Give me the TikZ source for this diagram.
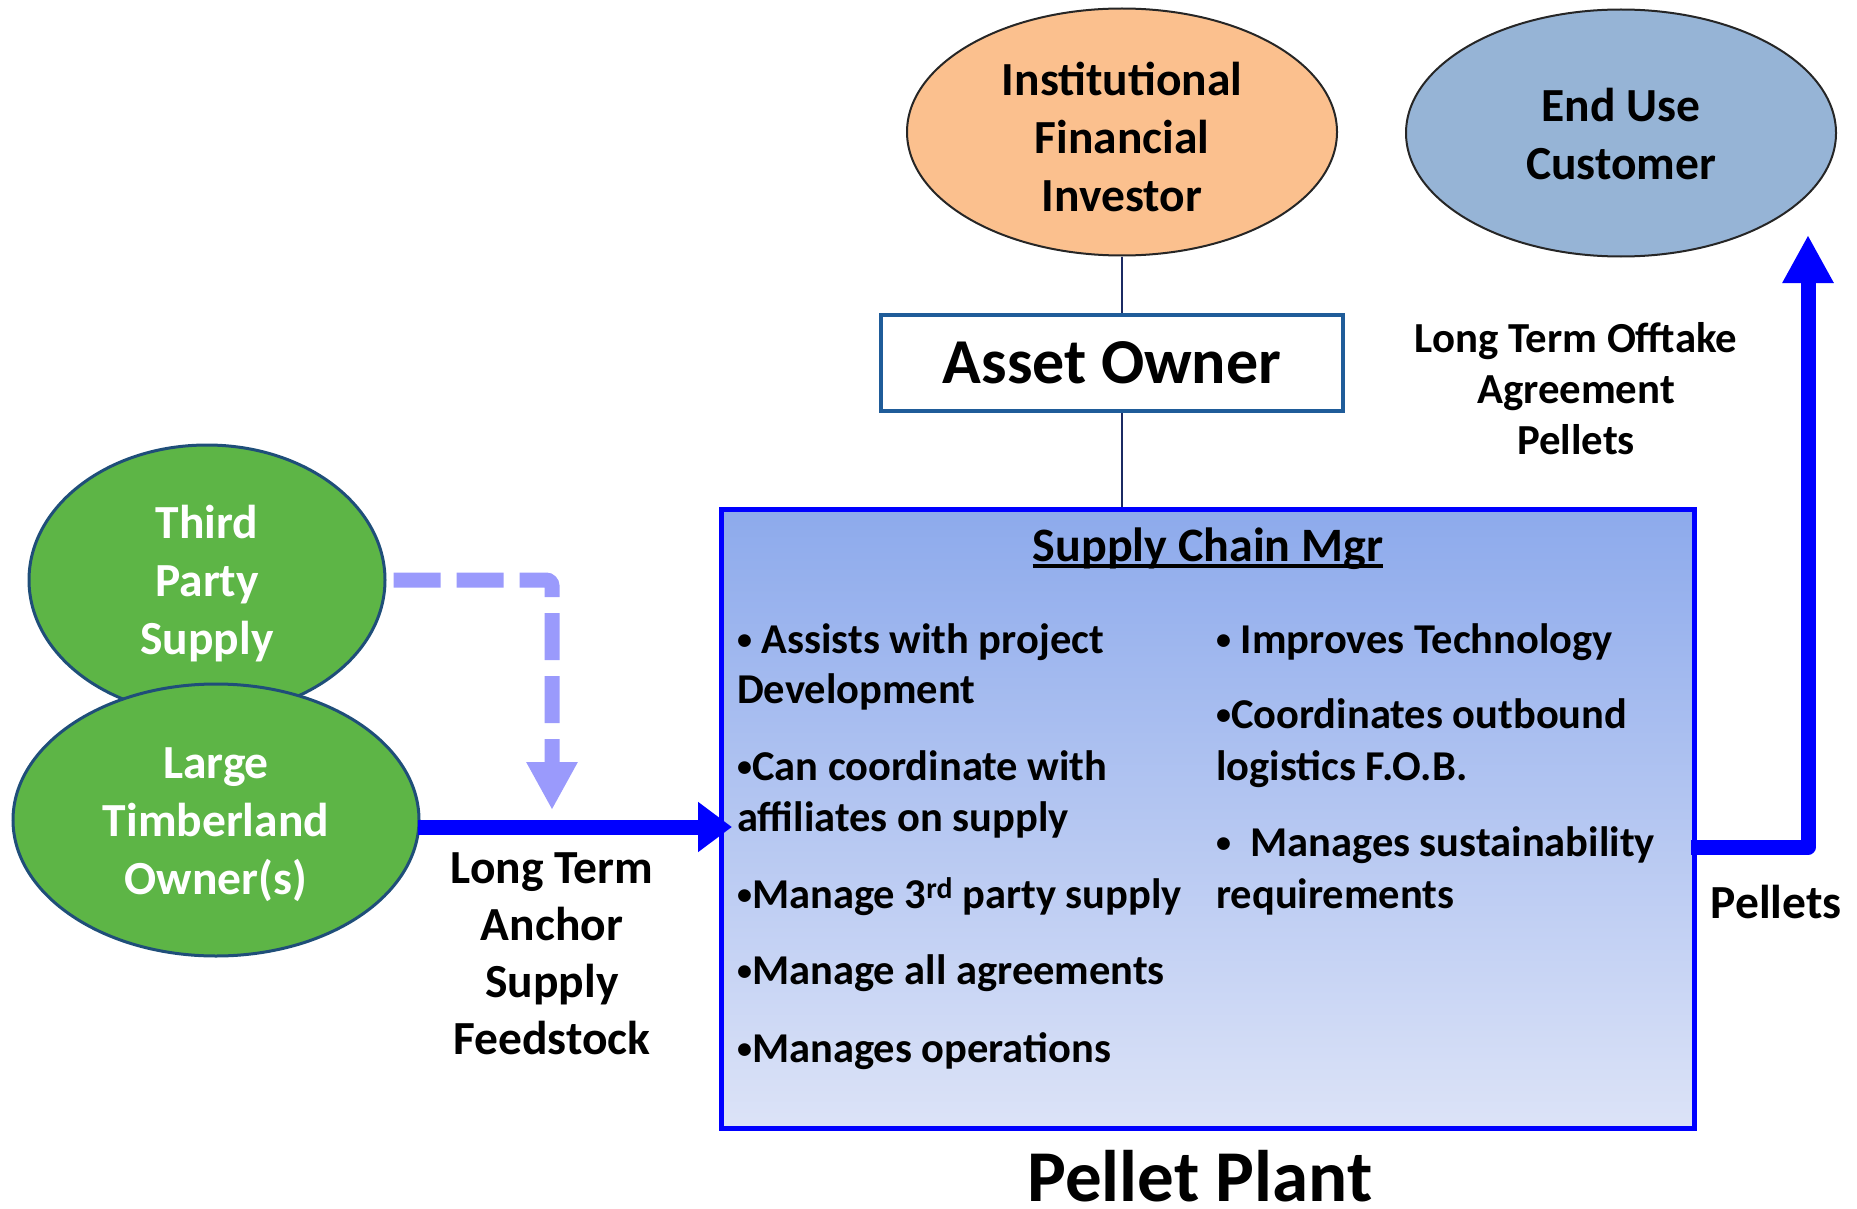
\documentclass[tikz,border=0pt]{standalone}
\usepackage{fontspec}
\setmainfont{Carlito}
\usetikzlibrary{shapes.geometric,arrows.meta}
\definecolor{peach}{HTML}{FBC08E}
\definecolor{skyb}{HTML}{96B4D6}
\definecolor{leaf}{HTML}{5DB546}
\definecolor{navy}{HTML}{1F4E79}
\definecolor{linknavy}{HTML}{1B2A63}
\definecolor{boxblue}{HTML}{1F5C99}
\definecolor{dashblue}{HTML}{9A9AFC}
\definecolor{plantTop}{HTML}{8DAAEC}
\definecolor{plantBot}{HTML}{DCE3F7}
\newcommand\mybul{{\fontsize{30}{30}\selectfont\raisebox{3.5pt}{•}}}
\begin{document}
\begin{tikzpicture}[x=1pt,y=-1pt,
  oval/.style={ellipse, inner sep=0pt},
  etxt/.style={inner sep=0pt, align=center, font=\bfseries\fontsize{47.5}{58}\selectfont},
  otxt/.style={inner sep=0pt, align=center, font=\bfseries\fontsize{42.8}{51}\selectfont},
  btxt/.style={inner sep=0pt, anchor=base west, font=\bfseries\fontsize{42.5}{51}\selectfont},
  bigarrow/.style={blue, line width=15pt},
  tip/.style={-{Triangle[width=48pt,length=48pt]}}
]
\useasboundingbox (0,0) rectangle (1857,1209);

% ellipses
\node[oval, fill=peach, draw=black!85, line width=2pt, minimum width=430pt, minimum height=247pt] (inst) at (1122,132) {};
\node[oval, fill=skyb, draw=black!85, line width=2pt, minimum width=430pt, minimum height=247pt] (enduse) at (1621,133) {};
\node[oval, fill=leaf, draw=navy, line width=3pt, minimum width=356pt, minimum height=270pt] (third) at (207,580) {};
\node[oval, fill=leaf, draw=navy, line width=3pt, minimum width=406pt, minimum height=272pt] (timber) at (216,820) {};

\node[etxt] (instT) at (1122,137) {Institutional\\Financial\\Investor};
\node[etxt] (endT) at (1621,134) {End Use\\Customer};
\node[etxt, text=white] (thirdT) at (207,583.5) {Third\\Party\\Supply};
\node[etxt, text=white] (timberT) at (216,825) {Large\\Timberland\\Owner(s)};

% asset owner
\node[draw=boxblue, fill=white, line width=4pt, minimum width=462pt, minimum height=96pt, inner sep=0pt,
  font=\bfseries\fontsize{64}{77}\selectfont] (asset) at (1112,363) {Asset Owner};

% pellet plant box
\node[draw=blue, line width=5pt, top color=plantTop, bottom color=plantBot, minimum width=973pt,
  minimum height=619pt, inner sep=0pt] (plant) at (1208,819) {};

\draw[linknavy, line width=2.5pt] (inst.south) -- (inst.south |- asset.north);
\draw[linknavy, line width=2.5pt] (inst.south |- asset.south) -- (inst.south |- plant.north);

\node[inner sep=0pt, anchor=base, font=\bfseries\fontsize{48}{58}\selectfont] (scm) at (1208,561) {Supply Chain Mgr};
\draw[line width=3.5pt] ([yshift=-5pt]scm.base west) -- ([yshift=-5pt]scm.base east);

% left column bullets
\node[btxt] (l1) at (737,653) {\mybul{} Assists with project};
\node[btxt] (l2) at (737,703) {Development};
\node[btxt] (l3) at (737,780) {\mybul{}Can coordinate with};
\node[btxt] (l4) at (737,831) {affiliates on supply};
\node[btxt] (l5) at (737,908) {\mybul{}Manage 3\textsuperscript{rd} party supply};
\node[btxt] (l6) at (737,984) {\mybul{}Manage all agreements};
\node[btxt] (l7) at (737,1062) {\mybul{}Manages operations};
% right column bullets
\node[btxt] (r1) at (1216,653) {\mybul{} Improves Technology};
\node[btxt] (r2) at (1216,728) {\mybul{}Coordinates outbound};
\node[btxt] (r3) at (1216,780) {logistics F.O.B.};
\node[btxt] (r4) at (1216,856) {\mybul{}\ \ Manages sustainability};
\node[btxt] (r5) at (1216,908) {requirements};

\node[inner sep=0pt, font=\bfseries\fontsize{73}{88}\selectfont] (ppT) at (1200,1176) {Pellet Plant};

% labels
\node[etxt, font=\bfseries\fontsize{47.5}{57}\selectfont] (anchorT) at (552,954) {Long Term\\Anchor\\Supply\\Feedstock};
\node[otxt] (offT) at (1576,389) {Long Term Offtake\\Agreement\\Pellets};
\node[etxt] (pelT) at (1776,902) {Pellets};

% dashed third-party arrow
\coordinate (dcorner) at (552,580);
\coordinate (dtip) at (552,810);
\draw[dashblue, line width=15pt, dash pattern=on 47pt off 16pt, rounded corners=6pt, tip]
  ([xshift=7pt]third.east) -- (dcorner) -- (dtip);

% solid anchor supply arrow
\coordinate (a1) at ([yshift=-7pt]timber.east);
\coordinate (a1end) at ([xshift=13pt]plant.west);
\draw[bigarrow, -{Triangle[width=48pt,length=34pt]}] ([xshift=-3pt]a1) -- (a1end |- a1);

% pellets arrow
\coordinate (p0) at ([yshift=-28pt,xshift=-6pt]plant.east);
\coordinate (pc) at (1808,847);
\coordinate (ptip) at (1808,235);
\draw[bigarrow, line join=round, tip] (p0) -- (pc) -- (ptip);
\end{tikzpicture}
\end{document}
